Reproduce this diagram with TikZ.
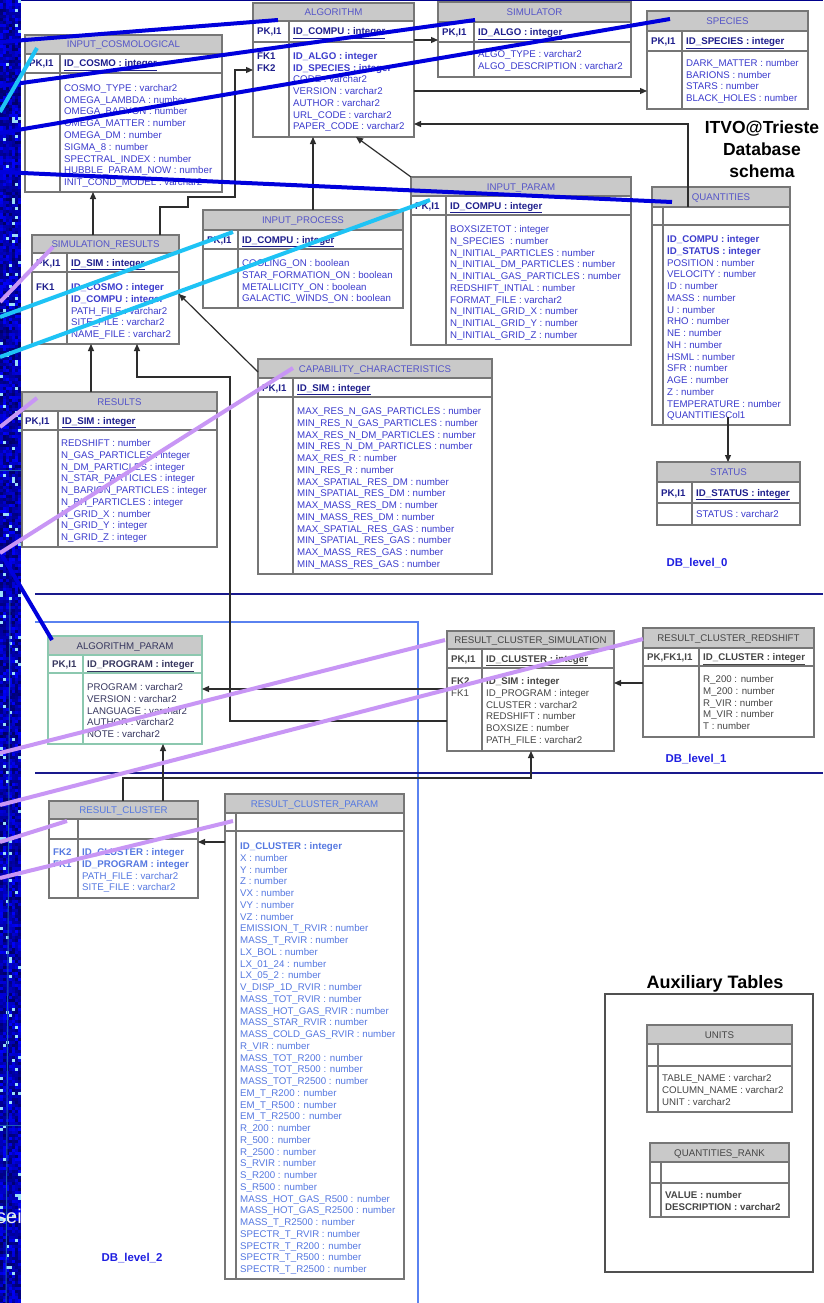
\documentclass[tikz,border=0pt]{standalone}
\usepackage{fontspec}
\setmainfont{Liberation Sans}
\usepackage{tikz}
\usetikzlibrary{arrows.meta,fit,positioning}

\definecolor{frameC}{RGB}{118,118,118}
\definecolor{lineC}{RGB}{45,45,45}
\definecolor{ttlblue}{RGB}{85,85,200}
\definecolor{txtblue}{RGB}{60,60,205}
\definecolor{keyblue}{RGB}{30,30,140}
\definecolor{navyC}{RGB}{25,25,140}
\definecolor{ltblueC}{RGB}{90,130,240}
\definecolor{tagblue}{RGB}{30,30,225}
\definecolor{ovD}{RGB}{0,0,220}
\definecolor{ovC}{RGB}{30,195,245}
\definecolor{ovL}{RGB}{200,150,245}
\definecolor{tealC}{RGB}{140,200,175}
\definecolor{slateC}{RGB}{55,55,95}
\definecolor{grayT}{RGB}{70,70,70}
\definecolor{skyT}{RGB}{85,120,225}
\definecolor{auxC}{RGB}{80,80,80}
\definecolor{skyBase}{RGB}{10,40,170}

\newcommand{\tabfont}{\fontsize{9.7}{11.75}\selectfont}

% table frame: name, left, top, right, bottom, title bottom, key bottom, column, title
\newcommand{\dbtable}[9]{%
  \fill[titlefill] (#2,#3) rectangle (#4,#6);
  \node[tabframe, fit={(#2,#3) (#4,#5)}] (#1) {};
  \draw[tabrule] (#2,#6) -- (#4,#6) (#2,#7) -- (#4,#7) (#8,#6) -- (#8,#5);
  \node[tabtitle] (#1-title) at ({(#2+#4)/2},{(#3+#6)/2+3.5}) {#9};
}
\newcommand{\dbkey}[6]{%
  \node[keylbl] (#1-pk) at (#2,#4) {#5};
  \node[keylbl] (#1-key) at (#3,#4) {\underline{#6}};
}
\newcommand{\dbrows}[5][attr]{%
  \foreach \rowtxt [count=\k] in {#5}
    \node[#1] (#2-\k) at (#3,{#4+(\k-1)*11.75}) {\rowtxt};
}

\begin{document}
\begin{tikzpicture}[x=1pt, y=-1pt,
  tabframe/.style={draw=frameC, line width=1.1pt, inner sep=0pt, outer sep=0pt},
  tabrule/.style={draw=frameC, line width=1.1pt},
  titlefill/.style={fill=gray!42},
  tabtitle/.style={anchor=base, inner sep=0pt, font=\tabfont, text=ttlblue},
  keylbl/.style={anchor=base west, inner sep=0pt, font=\tabfont\bfseries, text=keyblue},
  attr/.style={anchor=base west, inner sep=0pt, font=\tabfont, text=txtblue},
  fk/.style={draw=lineC, line width=1.2pt, -{Triangle[length=7pt,width=6pt]}},
  levelA/.style={draw=navyC, line width=2pt},
  levelB/.style={draw=ltblueC, line width=1.5pt},
  dbtag/.style={anchor=base, inner sep=0pt, font=\fontsize{11.4}{12}\selectfont\bfseries, text=tagblue},
  ovdark/.style={draw=ovD, line width=4pt},
  ovcyan/.style={draw=ovC, line width=4pt},
  ovlav/.style={draw=ovL, line width=4pt}]
\useasboundingbox (0,0) rectangle (823,1303);

\pgfmathsetseed{2718}
\fill[skyBase] (0,0) rectangle (21,1303);
\foreach \row in {0,...,434}{
  \foreach \col in {0,...,6}{
    \pgfmathtruncatemacro{\shade}{40+60*rnd}
    \pgfmathtruncatemacro{\spark}{rnd>0.95}
    \ifnum\spark=1 \fill[cyan!40!white] (3*\col,3*\row) rectangle ++(3,3);
    \else \fill[blue!\shade!black] (3*\col,3*\row) rectangle ++(3,3); \fi
  }
}
\draw[cyan!35!blue, line width=1pt] (10,600) -- (6,1303);
\draw[cyan!35!blue, line width=1pt] (0,312) -- (21,312) (0,470) -- (21,470) (0,1125) -- (21,1125);
\node[anchor=base west, inner sep=0pt, font=\fontsize{20}{20}\selectfont, text=gray!15] (sei) at (-4,1223) {sei};
\fill[blue!55!black] (21,0) rectangle (823,1.5);
\fill[white] (21,1.5) rectangle (823,1303);

% level borders
\draw[levelA] (35,594) -- (823,594);
\draw[levelB] (35,622) -| (418,1303);
\draw[levelA] (35,773) -- (823,773);

% DB_level_0
\dbtable{cosmo}{25}{35}{222}{192}{54}{73}{60}{INPUT\_COSMOLOGICAL}
\dbkey{cosmo}{29}{64}{67}{PK,I1}{ID\_COSMO : integer}
\dbrows{cosmo}{64}{91.5}{COSMO\_TYPE : varchar2, OMEGA\_LAMBDA : number, OMEGA\_BARYON : number, OMEGA\_MATTER : number, OMEGA\_DM : number, SIGMA\_8 : number, SPECTRAL\_INDEX : number, HUBBLE\_PARAM\_NOW : number, INIT\_COND\_MODEL : varchar2}

\dbtable{algo}{253}{3}{414}{137}{21}{42}{289}{ALGORITHM}
\dbkey{algo}{257}{293}{35}{PK,I1}{ID\_COMPU : integer}
\dbrows[keylbl]{algofk}{257}{59.5}{FK1,FK2}
\dbrows{algo}{293}{59.5}{\textbf{ID\_ALGO : integer}, \textbf{ID\_SPECIES : integer}, CODE : varchar2, VERSION : varchar2, AUTHOR : varchar2, URL\_CODE : varchar2, PAPER\_CODE : varchar2}

\dbtable{simulator}{438}{2}{631}{77}{22}{42}{474}{SIMULATOR}
\dbkey{simulator}{442}{478}{35.5}{PK,I1}{ID\_ALGO : integer}
\dbrows{simulator}{478}{57.5}{ALGO\_TYPE : varchar2, ALGO\_DESCRIPTION : varchar2}

\dbtable{species}{647}{11}{808}{109}{31}{51}{682}{SPECIES}
\dbkey{species}{651}{686}{44.5}{PK,I1}{ID\_SPECIES : integer}
\dbrows{species}{686}{66.5}{DARK\_MATTER : number, BARIONS : number, STARS : number, BLACK\_HOLES : number}

\node[anchor=north, align=center, inner sep=0pt, font=\fontsize{17.5}{22}\selectfont\bfseries] (heading) at (762,121) {ITVO@Trieste\\Database\\schema};

\dbtable{inparam}{411}{177}{631}{345}{196}{215}{446}{INPUT\_PARAM}
\dbkey{inparam}{415}{450}{209}{PK,I1}{ID\_COMPU : integer}
\dbrows{inparam}{450}{232.5}{BOXSIZETOT : integer, N\_SPECIES \ : number, N\_INITIAL\_PARTICLES : number, N\_INITIAL\_DM\_PARTICLES : number, N\_INITIAL\_GAS\_PARTICLES : number, REDSHIFT\_INTIAL : number, FORMAT\_FILE : varchar2, N\_INITIAL\_GRID\_X : number, N\_INITIAL\_GRID\_Y : number, N\_INITIAL\_GRID\_Z : number}

\dbtable{quant}{652}{187}{790}{425}{207}{225}{663}{QUANTITIES}
\dbrows{quant}{667}{242.5}{\textbf{ID\_COMPU : integer}, \textbf{ID\_STATUS : integer}, POSITION : number, VELOCITY : number, ID : number, MASS : number, U : number, RHO : number, NE : number, NH : number, HSML : number, SFR : number, AGE : number, Z : number, TEMPERATURE : number, QUANTITIESCol1}

\dbtable{status}{657}{462}{800}{525}{482}{503}{692}{STATUS}
\dbkey{status}{661}{696}{496}{PK,I1}{ID\_STATUS : integer}
\dbrows{status}{696}{517.5}{STATUS : varchar2}

\dbtable{inproc}{203}{210}{403}{308}{230}{249}{238}{INPUT\_PROCESS}
\dbkey{inproc}{207}{242}{243}{PK,I1}{ID\_COMPU : integer}
\dbrows{inproc}{242}{266.5}{COOLING\_ON : boolean, STAR\_FORMATION\_ON : boolean, METALLICITY\_ON : boolean, GALACTIC\_WINDS\_ON : boolean}

\dbtable{simres}{32}{235}{179}{344}{253}{272}{67}{SIMULATION\_RESULTS}
\dbkey{simres}{36}{71}{266}{PK,I1}{ID\_SIM : integer}
\dbrows[keylbl]{simresfk}{36}{290.5}{FK1}
\dbrows{simres}{71}{290.5}{\textbf{ID\_COSMO : integer}, \textbf{ID\_COMPU : integer}, PATH\_FILE : varchar2, SITE\_FILE : varchar2, NAME\_FILE : varchar2}

\dbtable{results}{22}{392}{217}{547}{411}{430}{58}{RESULTS}
\dbkey{results}{25}{62}{424}{PK,I1}{ID\_SIM : integer}
\dbrows{results}{61}{446.5}{REDSHIFT : number, N\_GAS\_PARTICLES : integer, N\_DM\_PARTICLES : integer, N\_STAR\_PARTICLES : integer, N\_BARION\_PARTICLES : integer, N\_BH\_PARTICLES : integer, N\_GRID\_X : number, N\_GRID\_Y : integer, N\_GRID\_Z : integer}

\dbtable{capab}{258}{359}{492}{574}{378}{397}{293}{CAPABILITY\_CHARACTERISTICS}
\dbkey{capab}{262}{297}{391}{PK,I1}{ID\_SIM : integer}
\dbrows{capab}{297}{414.5}{MAX\_RES\_N\_GAS\_PARTICLES : number, MIN\_RES\_N\_GAS\_PARTICLES : number, MAX\_RES\_N\_DM\_PARTICLES : number, MIN\_RES\_N\_DM\_PARTICLES : number, MAX\_RES\_R : number, MIN\_RES\_R : number, MAX\_SPATIAL\_RES\_DM : number, MIN\_SPATIAL\_RES\_DM : number, MAX\_MASS\_RES\_DM : number, MIN\_MASS\_RES\_DM : number, MAX\_SPATIAL\_RES\_GAS : number, MIN\_SPATIAL\_RES\_GAS : number, MAX\_MASS\_RES\_GAS : number, MIN\_MASS\_RES\_GAS : number}

\node[dbtag] (lvl0) at (697,566) {DB\_level\_0};

% DB_level_1
\begin{scope}[tabframe/.append style={draw=tealC}, tabrule/.append style={draw=tealC},
  tabtitle/.append style={text=slateC}, attr/.append style={text=slateC}, keylbl/.append style={text=slateC}]
\dbtable{algparam}{48}{636}{202}{744}{655}{673}{83}{ALGORITHM\_PARAM}
\dbkey{algparam}{52}{87}{667.5}{PK,I1}{ID\_PROGRAM : integer}
\dbrows{algparam}{87}{690.5}{PROGRAM : varchar2, VERSION : varchar2, LANGUAGE : varchar2, AUTHOR : varchar2, NOTE : varchar2}
\end{scope}

\begin{scope}[tabtitle/.append style={text=grayT}, attr/.append style={text=grayT}, keylbl/.append style={text=grayT}]
\dbtable{rcsim}{447}{631}{614}{751}{649}{668}{482}{RESULT\_CLUSTER\_SIMULATION}
\dbkey{rcsim}{451}{486}{662}{PK,I1}{ID\_CLUSTER : integer}
\dbrows{rcsimfk}{451}{684.5}{\textbf{FK2},FK1}
\dbrows{rcsim}{486}{684.5}{\textbf{ID\_SIM : integer}, ID\_PROGRAM : integer, CLUSTER : varchar2, REDSHIFT : number, BOXSIZE : number, PATH\_FILE : varchar2}

\dbtable{rcred}{643}{628}{814}{737}{648}{666}{699}{RESULT\_CLUSTER\_REDSHIFT}
\dbkey{rcred}{647}{703}{660.5}{PK,FK1,I1}{ID\_CLUSTER : integer}
\dbrows{rcred}{703}{682.5}{R\_200 : number, M\_200 : number, R\_VIR : number, M\_VIR : number, T : number}
\end{scope}

\node[dbtag] (lvl1) at (696,762) {DB\_level\_1};

% DB_level_2
\begin{scope}[tabtitle/.append style={text=skyT}, attr/.append style={text=skyT}, keylbl/.append style={text=skyT}]
\dbtable{rclus}{49}{801}{198}{898}{819}{839}{78}{RESULT\_CLUSTER}
\dbrows[keylbl]{rclusfk}{53}{855.5}{FK2,FK1}
\dbrows{rclus}{82}{855.5}{\textbf{ID\_CLUSTER : integer}, \textbf{ID\_PROGRAM : integer}, PATH\_FILE : varchar2, SITE\_FILE : varchar2}

\dbtable{rcpar}{225}{794}{404}{1279}{813}{831}{236}{RESULT\_CLUSTER\_PARAM}
\dbrows{rcpar}{240}{849.5}{\textbf{ID\_CLUSTER : integer}, X : number, Y : number, Z : number, VX : number, VY : number, VZ : number, EMISSION\_T\_RVIR : number, MASS\_T\_RVIR : number, LX\_BOL : number, LX\_01\_24 : number, LX\_05\_2 : number, V\_DISP\_1D\_RVIR : number, MASS\_TOT\_RVIR : number, MASS\_HOT\_GAS\_RVIR : number, MASS\_STAR\_RVIR : number, MASS\_COLD\_GAS\_RVIR : number, R\_VIR : number, MASS\_TOT\_R200 : number, MASS\_TOT\_R500 : number, MASS\_TOT\_R2500 : number, EM\_T\_R200 : number, EM\_T\_R500 : number, EM\_T\_R2500 : number, R\_200 : number, R\_500 : number, R\_2500 : number, S\_RVIR : number, S\_R200 : number, S\_R500 : number, MASS\_HOT\_GAS\_R500 : number, MASS\_HOT\_GAS\_R2500 : number, MASS\_T\_R2500 : number, SPECTR\_T\_RVIR : number, SPECTR\_T\_R200 : number, SPECTR\_T\_R500 : number, SPECTR\_T\_R2500 : number}
\end{scope}

\node[dbtag] (lvl2) at (132,1261) {DB\_level\_2};

% auxiliary tables
\node[anchor=base, inner sep=0pt, font=\fontsize{18}{20}\selectfont\bfseries] (auxtitle) at (715,988) {Auxiliary Tables};
\node[draw=auxC, line width=1.2pt, inner sep=0pt, fit={(605,994) (813,1272)}] (auxbox) {};
\begin{scope}[tabtitle/.append style={text=grayT}, attr/.append style={text=grayT}]
\dbtable{units}{647}{1025}{792}{1112}{1044}{1066}{658}{UNITS}
\dbrows{units}{662}{1081.5}{TABLE\_NAME : varchar2, COLUMN\_NAME : varchar2, UNIT : varchar2}
\dbtable{qrank}{650}{1143}{789}{1217}{1162}{1183}{661}{QUANTITIES\_RANK}
\dbrows{qrank}{665}{1198.5}{\textbf{VALUE : number}, \textbf{DESCRIPTION : varchar2}}
\end{scope}

% foreign keys
\draw[fk] (simres.north -| 93,0) -- (cosmo.south -| 93,0);
\draw[fk] (simres.north -| 160,0) |- (188,207) |- (235,197) |- (algo.west |- 0,70);
\draw[fk] (inproc.north -| 313,0) -- (algo.south -| 313,0);
\draw[fk] (inparam.north west) -- (algo.south -| 356,0);
\draw[fk] (algo.east |- 0,40) -- (simulator.west |- 0,40);
\draw[fk] (algo.east |- 0,91) -- (species.west |- 0,91);
\draw[fk] (quant.north -| 688,0) ++(0,20) |- (algo.east |- 0,124);
\draw[fk] (quant.south -| 728,0) ++(0,-8) -- (status.north -| 728,0);
\draw[fk] (capab.north west) ++(0,13) -- (simres.east |- 0,294);
\draw[fk] (results.north -| 91,0) -- (simres.south -| 91,0);
\draw[fk] (rcsim.west |- 0,721) -| (230,377) -| (simres.south -| 137,0);
\draw[fk] (rcsim.west |- 0,689) -- (algparam.east |- 0,689);
\draw[fk] (rcred.west |- 0,683) -- (rcsim.east |- 0,683);
\draw[fk] (rclus.north -| 163,0) -- (algparam.south -| 163,0);
\draw[fk] (rclus.north -| 123,0) |- (531,778) -- (rcsim.south -| 531,0);
\draw[fk] (rcpar.west |- 0,842) -- (rclus.east |- 0,842);

% pointer lines from the left
\coordinate (pA) at (0,42);
\coordinate (pB) at (0,86);
\coordinate (pC) at (0,133);
\coordinate (pD) at (0,172);
\coordinate (pE) at (0,552);
\coordinate (pF) at (0,112);
\coordinate (pG) at (0,317);
\coordinate (pH) at (0,357);
\coordinate (pI) at (0,302);
\coordinate (pJ) at (0,427);
\coordinate (pK) at (0,553);
\coordinate (pL) at (0,753);
\coordinate (pM) at (0,805);
\coordinate (pN) at (0,842);
\coordinate (pO) at (0,878);
\draw[ovdark] (pA) -- ([shift={(25,17)}]algo.north west);
\draw[ovdark] (pB) -- ([shift={(37,18)}]simulator.north west);
\draw[ovdark] (pC) -- ([shift={(23,8)}]species.north west);
\draw[ovdark] (pD) -- ([shift={(20,15)}]quant.north west);
\draw[ovdark] (pE) -- ([shift={(4,4)}]algparam.north west);
\draw[ovcyan] (pF) -- ([shift={(12,13)}]cosmo.north west);
\draw[ovcyan] (pG) -- ([shift={(30,22)}]inproc.north west);
\draw[ovcyan] (pH) -- ([shift={(19,23)}]inparam.north west);
\draw[ovlav] (pI) -- ([shift={(21,12)}]simres.north west);
\draw[ovlav] (pJ) -- ([shift={(15,6)}]results.north west);
\draw[ovlav] (pK) -- ([shift={(35,9)}]capab.north west);
\draw[ovlav] (pL) -- ([shift={(-2,9)}]rcsim.north west);
\draw[ovlav] (pM) -- ([shift={(0,11)}]rcred.north west);
\draw[ovlav] (pN) -- ([shift={(18,20)}]rclus.north west);
\draw[ovlav] (pO) -- ([shift={(8,27)}]rcpar.north west);
\end{tikzpicture}
\end{document}
